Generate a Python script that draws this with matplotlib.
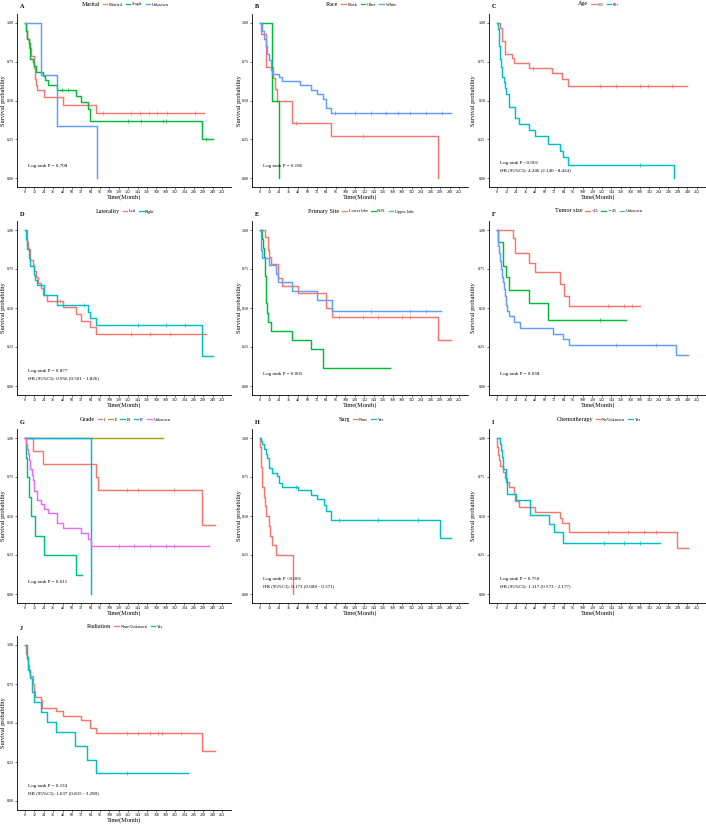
import matplotlib
matplotlib.use("Agg")
import matplotlib.pyplot as plt
from matplotlib.lines import Line2D
import numpy as np

plt.rcParams["font.family"] = ["Liberation Serif", "DejaVu Serif"]

W, H = 706, 824

RED = "#F8766D"
CYAN = "#00BFC4"
GREEN3 = "#00BA38"
BLUE3 = "#619CFF"

# ---- A: Marital
married_t = [0, 1, 3, 5, 8, 11, 13, 14, 15, 24, 49, 91, 229]
married_s = [1.0, 0.95, 0.9, 0.84, 0.79, 0.71, 0.64, 0.6, 0.57, 0.52, 0.47, 0.42, 0.42]
married_c = [100, 135, 147, 158, 169, 182, 218]
single_t = [0, 1, 3, 5, 6, 7, 10, 12, 14, 23, 26, 30, 41, 65, 72, 80, 83, 226, 241]
single_s = [1.0, 0.95, 0.9, 0.87, 0.83, 0.77, 0.75, 0.72, 0.685, 0.657, 0.63, 0.6, 0.567, 0.53, 0.49, 0.445, 0.37, 0.25, 0.25]
single_c = [47, 55, 132, 149, 177, 180, 232]
unk_a_t = [0, 20, 41, 92]
unk_a_s = [1.0, 0.667, 0.333, 0.0]

# ---- B: Race
black_t = [0, 1.5, 7, 16, 19, 22, 41, 90, 226]
black_s = [1.0, 0.929, 0.714, 0.643, 0.571, 0.5, 0.357, 0.268, 0.0]
black_c = [45, 130]
other_t = [0, 15, 23.5]
other_s = [1.0, 0.5, 0.0]
white_t = [0, 2, 5, 7, 9, 12, 14, 15, 24, 28, 51, 64, 72, 80, 83, 90, 242]
white_s = [1.0, 0.95, 0.9, 0.85, 0.8, 0.76, 0.7, 0.67, 0.65, 0.625, 0.6, 0.57, 0.54, 0.51, 0.45, 0.42, 0.42]
white_c = [95, 120, 140, 160, 175, 190, 210, 230]

# ---- C: Age
lt60_t = [0, 4, 6, 10.5, 19, 21, 40, 69, 82, 89, 239]
lt60_s = [1.0, 0.97, 0.886, 0.8, 0.775, 0.743, 0.71, 0.675, 0.636, 0.593, 0.593]
lt60_c = [45, 130, 150, 180, 190, 220]
ge60_t = [0, 1, 2, 2.5, 3.4, 4.2, 5.5, 6.3, 8.4, 10.5, 11.8, 14.7, 23, 28, 40, 48, 64, 79, 83, 89, 223]
ge60_s = [1.0, 0.96, 0.92, 0.85, 0.81, 0.77, 0.715, 0.65, 0.62, 0.58, 0.54, 0.46, 0.385, 0.346, 0.308, 0.269, 0.22, 0.175, 0.133, 0.085, 0.0]
ge60_c = [180]

# ---- D: Laterality
left_t = [0, 2, 4, 6, 7, 10, 12, 14, 16, 20, 23, 28, 48, 65, 71, 83, 91, 232]
left_s = [1.0, 0.925, 0.88, 0.85, 0.81, 0.774, 0.74, 0.7, 0.66, 0.63, 0.585, 0.548, 0.505, 0.462, 0.415, 0.376, 0.333, 0.333]
left_c = [45, 135, 160, 185]
right_t = [0, 1, 3, 5, 7, 11, 13, 15, 24, 41, 80, 83, 91, 226, 240]
right_s = [1.0, 0.94, 0.88, 0.82, 0.767, 0.71, 0.677, 0.65, 0.585, 0.52, 0.477, 0.437, 0.39, 0.195, 0.195]
right_c = [75, 145, 180, 205]

# ---- E: Primary Site
lower_t = [0, 6, 10.5, 11, 14, 23, 28, 48, 83, 91, 226, 242]
lower_s = [1.0, 0.957, 0.87, 0.83, 0.78, 0.69, 0.64, 0.595, 0.497, 0.445, 0.293, 0.293]
lower_c = [100, 130, 150, 180, 190]
nos_t = [0, 2, 4, 5.5, 6.5, 7, 9, 10.6, 14, 41, 65, 80, 164]
nos_s = [1.0, 0.941, 0.882, 0.824, 0.706, 0.529, 0.471, 0.412, 0.353, 0.294, 0.235, 0.118, 0.118]
upper_t = [0, 1, 3, 11, 20, 23, 41, 72, 91, 229]
upper_s = [1.0, 0.87, 0.82, 0.775, 0.72, 0.668, 0.61, 0.55, 0.48, 0.48]
upper_c = [140, 190, 210]

# ---- F: Tumor size
lt45_t = [0, 19.7, 23, 40, 47.5, 79, 84, 91, 180]
lt45_s = [1.0, 0.947, 0.85, 0.79, 0.728, 0.654, 0.58, 0.51, 0.51]
lt45_c = [140, 160, 170]
ge45_t = [0, 1, 7, 11, 15.5, 40, 64, 163]
ge45_s = [1.0, 0.924, 0.77, 0.696, 0.618, 0.53, 0.42, 0.42]
ge45_c = [130]
unk_f_t = [0, 1, 3, 4, 5, 6, 7, 9, 10, 11, 12, 15, 21, 29, 71, 83, 91, 225.5, 240.7]
unk_f_s = [1.0, 0.9, 0.85, 0.8, 0.75, 0.7, 0.665, 0.62, 0.58, 0.52, 0.48, 0.448, 0.41, 0.374, 0.335, 0.3, 0.26, 0.197, 0.197]
unk_f_c = [150, 200]

# ---- G: Grade
g1_t = [0, 10.6, 22.5, 91, 93, 227, 243.6]
g1_s = [1.0, 0.917, 0.833, 0.75, 0.667, 0.444, 0.444]
g1_c = [130, 145, 190]
g2_t = [0, 177]
g2_s = [1.0, 1.0]
g3_t = [0, 1, 2.5, 5, 8, 13, 24, 65, 73]
g3_s = [1.0, 0.875, 0.75, 0.625, 0.5, 0.375, 0.25, 0.125, 0.125]
g4_t = [0, 84]
g4_s = [1.0, 0.0]
gunk_t = [0, 1, 2, 3.4, 5, 6, 7, 9, 10, 11, 12, 15, 20, 24, 29, 41, 48, 72, 81, 84, 235]
gunk_s = [1.0, 0.96, 0.93, 0.9, 0.86, 0.83, 0.8, 0.76, 0.73, 0.7, 0.66, 0.605, 0.58, 0.548, 0.52, 0.458, 0.426, 0.388, 0.35, 0.307, 0.307]
gunk_c = [120, 140, 160, 180, 190]

# ---- H: Surg
none_t = [0, 0.5, 1, 2, 3, 5, 6, 7, 12, 13, 15, 20, 41.5]
none_s = [1.0, 0.94, 0.815, 0.75, 0.687, 0.625, 0.563, 0.5, 0.437, 0.375, 0.312, 0.25, 0.0]
yes_h_t = [0, 1, 3, 5, 7, 9, 11, 12, 15, 22, 24, 28, 48, 65, 72, 81, 84, 90, 227.5, 242]
yes_h_s = [1.0, 0.98, 0.96, 0.93, 0.9, 0.87, 0.84, 0.81, 0.778, 0.755, 0.712, 0.687, 0.665, 0.637, 0.61, 0.57, 0.53, 0.473, 0.356, 0.356]
yes_h_c = [45, 100, 150, 200]

# ---- I: Chemotherapy
nochemo_t = [0, 0.5, 1, 2, 4, 7, 10, 13, 15, 22, 23, 28, 48, 79, 82, 91, 226.5, 240.5]
nochemo_s = [1.0, 0.94, 0.89, 0.86, 0.818, 0.78, 0.744, 0.718, 0.686, 0.64, 0.598, 0.558, 0.525, 0.49, 0.455, 0.395, 0.293, 0.293]
nochemo_c = [140, 165, 185, 200]
chemo_t = [0, 3.4, 5, 6, 7, 11, 12, 24, 41, 65, 72, 83, 206]
chemo_s = [1.0, 0.96, 0.92, 0.88, 0.8, 0.72, 0.64, 0.6, 0.504, 0.449, 0.395, 0.327, 0.327]
chemo_c = [135, 160, 180]

# ---- J: Radiation
norad_t = [0, 1, 2, 4, 5, 7, 10, 11, 13, 20, 22, 40, 48, 71, 83, 91, 227, 243]
norad_s = [1.0, 0.94, 0.91, 0.87, 0.83, 0.8, 0.75, 0.704, 0.668, 0.645, 0.598, 0.577, 0.545, 0.52, 0.465, 0.433, 0.323, 0.323]
norad_c = [130, 145, 160, 170, 175, 200]
rad_t = [0, 2, 4, 6, 9, 12, 20, 28, 40, 64, 79, 91, 209]
rad_s = [1.0, 0.92, 0.84, 0.79, 0.7, 0.634, 0.571, 0.507, 0.444, 0.355, 0.266, 0.18, 0.18]
rad_c = [130]

panels = [
    ("A", "Marital", 0, 0, [("Married", married_t, married_s, married_c, RED),
                           ("Single", single_t, single_s, single_c, GREEN3),
                           ("Unknown", unk_a_t, unk_a_s, [], BLUE3)],
     ["Log rank P = 0.708"]),
    ("B", "Race", 1, 0, [("Black", black_t, black_s, black_c, RED),
                        ("Other", other_t, other_s, [], GREEN3),
                        ("White", white_t, white_s, white_c, BLUE3)],
     ["Log rank P = 0.196"]),
    ("C", "Age", 2, 0, [("<60", lt60_t, lt60_s, lt60_c, RED),
                       ("60+", ge60_t, ge60_s, ge60_c, CYAN)],
     ["Log rank P <0.001", "HR (95%CI): 4.246 (2.140 - 8.424)"]),
    ("D", "Laterality", 0, 1, [("Left", left_t, left_s, left_c, RED),
                              ("Right", right_t, right_s, right_c, CYAN)],
     ["Log rank P = 0.877", "HR (95%CI): 0.956 (0.501 - 1.826)"]),
    ("E", "Primary Site", 1, 1, [("Lower lobe", lower_t, lower_s, lower_c, RED),
                                ("NOS", nos_t, nos_s, [], GREEN3),
                                ("Upper lobe", upper_t, upper_s, upper_c, BLUE3)],
     ["Log rank P = 0.005"]),
    ("F", "Tumor size", 2, 1, [("<45", lt45_t, lt45_s, lt45_c, RED),
                              (">=45", ge45_t, ge45_s, ge45_c, GREEN3),
                              ("Unknown", unk_f_t, unk_f_s, unk_f_c, BLUE3)],
     ["Log rank P = 0.038"]),
    ("G", "Grade", 0, 2, [("I", g1_t, g1_s, g1_c, "#F8766D"),
                         ("II", g2_t, g2_s, [], "#A3A500"),
                         ("III", g3_t, g3_s, [], "#00BF7D"),
                         ("IV", g4_t, g4_s, [], "#00B0F6"),
                         ("Unknown", gunk_t, gunk_s, gunk_c, "#E76BF3")],
     ["Log rank P = 0.011"]),
    ("H", "Surg", 1, 2, [("None", none_t, none_s, [], RED),
                        ("Yes", yes_h_t, yes_h_s, yes_h_c, CYAN)],
     ["Log rank P <0.001", "HR (95%CI): 0.173 (0.080 - 0.371)"]),
    ("I", "Chemotherapy", 2, 2, [("No/Unknown", nochemo_t, nochemo_s, nochemo_c, RED),
                                ("Yes", chemo_t, chemo_s, chemo_c, CYAN)],
     ["Log rank P = 0.750", "HR (95%CI): 1.117 (0.573 - 2.177)"]),
    ("J", "Radiation", 0, 3, [("None/Unknown", norad_t, norad_s, norad_c, RED),
                             ("Yes", rad_t, rad_s, rad_c, CYAN)],
     ["Log rank P = 0.134", "HR (95%CI): 1.637 (0.815 - 3.289)"]),
]

# pixel positions of x=0 / x=252 per column and y=1 / y=0 per row
col_x = [(25, 222), (260, 459), (497, 697)]
row_y = [(23, 178), (230, 386), (438, 594), (645, 801)]
cell_x = [0, 235, 470]

fig = plt.figure(figsize=(W / 100, H / 100), dpi=100)

XL, XR = -10, 264
YB, YT = -0.055, 1.055

for letter, title, col, row, groups, notes in panels:
    px0, px252 = col_x[col]
    py1, py0 = row_y[row]
    kx = (px252 - px0) / 252.0
    ky = (py0 - py1)
    left = px0 + XL * kx
    right = px0 + XR * kx
    top = py1 - (YT - 1) * ky
    bottom = py0 - YB * ky
    ax = fig.add_axes([left / W, 1 - bottom / H, (right - left) / W, (bottom - top) / H])

    handles = [Line2D([], [], linestyle="none")]
    labels = [title]
    for name, t, s, cens, colr in groups:
        ax.step(t, s, where="post", color=colr, lw=1.05)
        if cens:
            idx = np.searchsorted(t, cens, side="right") - 1
            ax.plot(cens, np.array(s)[idx], linestyle="none", marker="+",
                    color=colr, markersize=2.2, markeredgewidth=0.5)
        handles.append(Line2D([], [], color=colr, lw=0.9))
        labels.append(name)

    ax.set_xlim(XL, XR)
    ax.set_ylim(YB, YT)
    ax.set_xticks(np.arange(0, 253, 12))
    ax.set_yticks([0, 0.25, 0.5, 0.75, 1.0])
    ax.set_yticklabels(["0.00", "0.25", "0.50", "0.75", "1.00"])
    ax.tick_params(labelsize=3, length=1.5, width=0.4, pad=1.0)
    for sp in ["top", "right"]:
        ax.spines[sp].set_visible(False)
    for sp in ["left", "bottom"]:
        ax.spines[sp].set_linewidth(0.6)
    ax.set_xlabel("Time(Month)", fontsize=4.6, labelpad=0.2)

    fig.text((cell_x[col] + 4) / W, 1 - ((top + bottom) / 2) / H, "Survival probability",
             rotation=90, fontsize=4.5, ha="center", va="center")

    leg_y = py1 - 19
    fig.text(left / W + 0.004, 1 - (leg_y + 3) / H, letter, fontsize=4.5,
             fontweight="bold", ha="left", va="center")
    leg = ax.legend(handles, labels, loc="center", ncol=len(labels),
                    bbox_to_anchor=(((left + right) / 2) / W, 1 - leg_y / H),
                    bbox_transform=fig.transFigure, frameon=False, fontsize=3.1,
                    handlelength=1.1, handletextpad=0.35, columnspacing=0.7,
                    borderpad=0, borderaxespad=0)
    leg.get_texts()[0].set_fontsize(4.4)
    try:
        # no blank key in front of the inline title
        leg._legend_handle_box.get_children()[0].get_children()[0].get_children()[0].width = 0
    except Exception:
        pass

    ys = [0.075] if len(notes) == 1 else [0.095, 0.048]
    for yy, txt in zip(ys, notes):
        ax.text(4, yy, txt, fontsize=3.6, ha="left", va="center")

fig.savefig("out.png", dpi=100, facecolor="white")
